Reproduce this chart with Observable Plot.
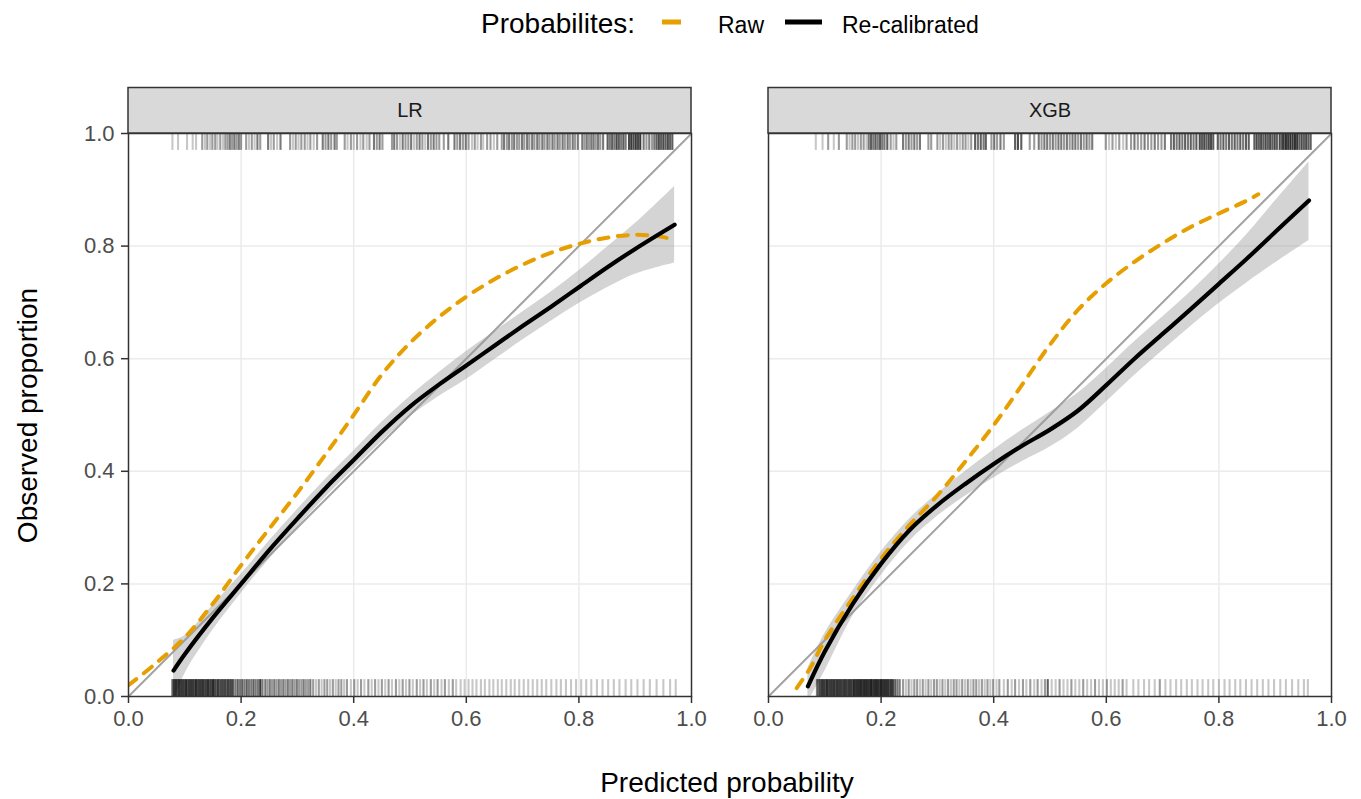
<!DOCTYPE html>
<html>
<head>
<meta charset="utf-8">
<script src="https://cdn.jsdelivr.net/npm/d3@7"></script>
<script src="https://cdn.jsdelivr.net/npm/@observablehq/plot@0.6"></script>
<style>
  html, body { margin: 0; padding: 0; background: white; }
  #wrap { position: relative; width: 1361px; height: 799px; font-family: "Liberation Sans", Arial, sans-serif; }
  #wrap svg.plot-panel { position: absolute; top: 0; overflow: visible; }
  #overlay { position: absolute; left: 0; top: 0; z-index: 10; pointer-events: none; }
</style>
</head>
<body>
<div id="wrap"></div>
<script>
// ---------- data ----------
const panels = ["LR", "XGB"];
const legendTitle = "Probabilites:";
const seriesNames = ["Raw", "Re-calibrated"];
const axisTicks = [0, 0.2, 0.4, 0.6, 0.8, 1];
const gridTicks = [0.2, 0.4, 0.6, 0.8];
const diag = [0, 1];

// [predicted, observed]
const lrRaw = [[0,0.02],[0.05,0.06],[0.1,0.105],[0.15,0.165],[0.2,0.233],[0.25,0.298],[0.3,0.362],[0.35,0.43],[0.4,0.5],[0.45,0.572],[0.5,0.628],[0.55,0.673],[0.6,0.71],[0.65,0.741],[0.7,0.767],[0.75,0.788],[0.8,0.804],[0.85,0.815],[0.9,0.82],[0.95,0.816],[0.97,0.81]];
const lrCal = [[0.08,0.046],[0.1,0.075],[0.15,0.14],[0.2,0.2],[0.25,0.26],[0.3,0.316],[0.35,0.37],[0.4,0.42],[0.45,0.47],[0.5,0.515],[0.55,0.553],[0.6,0.588],[0.65,0.623],[0.7,0.658],[0.75,0.692],[0.8,0.727],[0.85,0.762],[0.9,0.795],[0.97,0.838]];
// [predicted, lower, upper]
const lrBand = [[0.08,-0.01,0.10],[0.1,0.04,0.108],[0.15,0.118,0.162],[0.2,0.183,0.217],[0.25,0.244,0.276],[0.3,0.30,0.332],[0.35,0.354,0.386],[0.4,0.404,0.436],[0.45,0.453,0.487],[0.5,0.497,0.533],[0.55,0.532,0.574],[0.6,0.563,0.613],[0.65,0.598,0.648],[0.7,0.633,0.683],[0.75,0.666,0.718],[0.8,0.698,0.756],[0.85,0.726,0.798],[0.9,0.75,0.84],[0.97,0.77,0.906]];

const xgbRaw = [[0.05,0.015],[0.075,0.052],[0.1,0.1],[0.15,0.175],[0.2,0.245],[0.25,0.304],[0.3,0.357],[0.35,0.418],[0.4,0.482],[0.45,0.553],[0.5,0.625],[0.55,0.687],[0.6,0.734],[0.65,0.772],[0.7,0.805],[0.75,0.834],[0.8,0.858],[0.85,0.881],[0.87,0.892]];
const xgbCal = [[0.07,0.018],[0.1,0.08],[0.15,0.165],[0.2,0.236],[0.25,0.295],[0.3,0.34],[0.35,0.378],[0.4,0.413],[0.45,0.445],[0.5,0.474],[0.55,0.508],[0.6,0.553],[0.65,0.6],[0.7,0.644],[0.75,0.688],[0.8,0.733],[0.85,0.778],[0.9,0.825],[0.96,0.881]];
const xgbBand = [[0.07,-0.01,0.05],[0.1,0.045,0.112],[0.15,0.143,0.188],[0.2,0.215,0.257],[0.25,0.275,0.315],[0.3,0.32,0.36],[0.35,0.356,0.4],[0.4,0.388,0.438],[0.45,0.417,0.473],[0.5,0.443,0.505],[0.55,0.477,0.539],[0.6,0.523,0.583],[0.65,0.57,0.63],[0.7,0.614,0.674],[0.75,0.657,0.719],[0.8,0.698,0.768],[0.85,0.735,0.821],[0.9,0.77,0.88],[0.96,0.81,0.95]];

// rug: [predicted, number of observations at that position]
const lrRugEvents = [[0.078,1],[0.088,1],[0.104,1],[0.114,1],[0.120,1],[0.131,2],[0.136,1],[0.140,2],[0.145,1],[0.149,2],[0.154,2],[0.158,1],[0.163,2],[0.168,1],[0.172,2],[0.176,2],[0.180,3],[0.184,2],[0.188,3],[0.192,2],[0.196,3],[0.200,2],[0.209,2],[0.214,1],[0.219,2],[0.224,1],[0.229,3],[0.234,2],[0.248,3],[0.253,1],[0.258,2],[0.264,1],[0.270,3],[0.287,2],[0.292,1],[0.297,2],[0.302,1],[0.307,2],[0.313,2],[0.318,1],[0.323,2],[0.329,1],[0.335,2],[0.345,3],[0.350,2],[0.355,3],[0.360,2],[0.366,3],[0.370,2],[0.384,2],[0.389,1],[0.395,2],[0.400,1],[0.406,2],[0.412,1],[0.417,2],[0.423,1],[0.428,2],[0.436,3],[0.441,2],[0.446,3],[0.451,2],[0.468,2],[0.472,3],[0.477,2],[0.482,1],[0.487,3],[0.492,2],[0.497,2],[0.502,3],[0.507,1],[0.512,2],[0.517,3],[0.522,2],[0.527,1],[0.532,3],[0.537,2],[0.542,3],[0.547,2],[0.552,2],[0.560,2],[0.568,3],[0.579,3],[0.584,2],[0.589,3],[0.594,2],[0.599,3],[0.604,2],[0.610,1],[0.615,2],[0.620,1],[0.626,2],[0.630,1],[0.637,2],[0.643,2],[0.649,1],[0.655,2],[0.663,2],[0.667,3],[0.672,2],[0.676,3],[0.681,2],[0.685,3],[0.690,2],[0.694,2],[0.699,3],[0.703,2],[0.708,3],[0.712,2],[0.717,3],[0.721,2],[0.726,3],[0.730,2],[0.735,3],[0.739,2],[0.744,3],[0.748,2],[0.753,3],[0.757,2],[0.762,3],[0.766,2],[0.771,3],[0.775,2],[0.780,3],[0.784,2],[0.789,3],[0.793,2],[0.798,3],[0.806,3],[0.810,2],[0.814,3],[0.818,2],[0.822,3],[0.826,3],[0.830,2],[0.834,3],[0.838,2],[0.843,3],[0.851,4],[0.855,3],[0.859,4],[0.863,3],[0.867,5],[0.871,4],[0.875,3],[0.879,4],[0.883,3],[0.889,5],[0.893,6],[0.897,5],[0.901,6],[0.905,5],[0.909,6],[0.915,3],[0.920,2],[0.925,3],[0.930,2],[0.934,3],[0.938,4],[0.942,5],[0.946,4],[0.950,5],[0.954,4],[0.958,5],[0.962,4],[0.966,4]];
const lrRugNonEvents = [[0.078,4],[0.081,5],[0.084,6],[0.087,5],[0.090,6],[0.093,5],[0.096,6],[0.099,5],[0.102,6],[0.105,5],[0.108,6],[0.111,5],[0.114,6],[0.117,5],[0.120,6],[0.123,5],[0.126,6],[0.129,5],[0.132,6],[0.135,5],[0.138,5],[0.141,6],[0.144,5],[0.147,5],[0.150,6],[0.153,5],[0.156,4],[0.159,5],[0.162,4],[0.165,5],[0.168,4],[0.171,5],[0.174,4],[0.177,5],[0.180,4],[0.183,5],[0.186,4],[0.190,3],[0.194,4],[0.198,3],[0.202,4],[0.206,3],[0.210,4],[0.214,3],[0.218,3],[0.222,4],[0.226,3],[0.230,3],[0.234,6],[0.238,3],[0.243,3],[0.247,2],[0.251,3],[0.255,2],[0.259,3],[0.263,2],[0.267,3],[0.271,2],[0.275,3],[0.279,2],[0.283,3],[0.287,2],[0.291,3],[0.295,2],[0.299,3],[0.303,2],[0.307,2],[0.311,3],[0.315,2],[0.319,2],[0.323,3],[0.328,2],[0.333,1],[0.338,2],[0.343,1],[0.348,2],[0.353,2],[0.358,1],[0.363,2],[0.368,1],[0.373,2],[0.378,2],[0.383,1],[0.388,2],[0.395,1],[0.401,2],[0.407,1],[0.413,2],[0.419,1],[0.426,2],[0.432,1],[0.438,2],[0.444,1],[0.450,2],[0.456,1],[0.462,2],[0.468,1],[0.475,2],[0.481,1],[0.487,2],[0.493,1],[0.499,2],[0.505,1],[0.512,2],[0.518,1],[0.524,2],[0.530,1],[0.537,2],[0.543,1],[0.549,2],[0.556,1],[0.562,2],[0.569,1],[0.576,2],[0.582,1],[0.590,1],[0.597,1],[0.604,1],[0.611,1],[0.618,1],[0.626,1],[0.633,1],[0.641,1],[0.648,1],[0.656,1],[0.663,1],[0.671,1],[0.679,1],[0.686,1],[0.694,1],[0.702,1],[0.710,1],[0.718,1],[0.726,1],[0.734,1],[0.742,1],[0.751,1],[0.760,1],[0.768,1],[0.777,1],[0.786,1],[0.795,1],[0.804,1],[0.813,1],[0.822,1],[0.832,1],[0.842,1],[0.852,1],[0.862,1],[0.872,1],[0.883,1],[0.893,1],[0.904,1],[0.915,1],[0.926,1],[0.938,1],[0.950,1],[0.962,1],[0.972,1]];
const xgbRugEvents = [[0.084,1],[0.096,1],[0.106,2],[0.116,1],[0.125,2],[0.139,2],[0.144,1],[0.149,2],[0.154,2],[0.159,1],[0.164,2],[0.169,2],[0.174,1],[0.178,3],[0.182,4],[0.186,3],[0.190,4],[0.194,3],[0.198,4],[0.202,3],[0.206,3],[0.211,4],[0.217,2],[0.222,1],[0.227,2],[0.239,3],[0.244,2],[0.249,3],[0.254,2],[0.259,3],[0.264,2],[0.269,3],[0.284,2],[0.289,2],[0.300,2],[0.305,1],[0.310,2],[0.315,1],[0.320,2],[0.325,2],[0.330,1],[0.335,2],[0.340,1],[0.345,2],[0.350,2],[0.355,1],[0.360,2],[0.367,4],[0.372,3],[0.377,4],[0.382,3],[0.386,4],[0.396,2],[0.401,3],[0.406,2],[0.412,3],[0.418,2],[0.438,4],[0.443,5],[0.449,4],[0.464,2],[0.472,2],[0.480,3],[0.485,2],[0.490,3],[0.495,3],[0.500,2],[0.505,3],[0.510,2],[0.515,3],[0.520,3],[0.525,2],[0.530,3],[0.535,2],[0.540,3],[0.545,3],[0.550,2],[0.555,3],[0.560,2],[0.565,3],[0.570,2],[0.575,3],[0.599,2],[0.605,1],[0.611,2],[0.617,1],[0.623,2],[0.630,1],[0.636,2],[0.644,2],[0.650,3],[0.656,2],[0.662,2],[0.668,3],[0.674,2],[0.680,2],[0.686,3],[0.692,2],[0.698,2],[0.704,3],[0.715,3],[0.720,4],[0.725,3],[0.730,4],[0.735,3],[0.740,4],[0.745,3],[0.750,4],[0.755,3],[0.760,4],[0.766,5],[0.770,4],[0.774,5],[0.778,4],[0.782,5],[0.786,5],[0.790,4],[0.798,4],[0.803,3],[0.808,4],[0.813,3],[0.818,4],[0.823,3],[0.828,4],[0.833,3],[0.838,4],[0.843,3],[0.848,4],[0.853,4],[0.863,4],[0.867,5],[0.871,4],[0.875,5],[0.879,4],[0.883,5],[0.887,4],[0.891,5],[0.895,4],[0.899,5],[0.903,4],[0.908,5],[0.912,4],[0.915,6],[0.919,7],[0.923,6],[0.927,7],[0.931,6],[0.935,7],[0.939,6],[0.943,4],[0.947,5],[0.951,4],[0.955,5],[0.959,4],[0.963,4]];
const xgbRugNonEvents = [[0.086,3],[0.089,4],[0.092,5],[0.095,5],[0.098,6],[0.101,5],[0.104,6],[0.107,5],[0.110,6],[0.113,5],[0.116,6],[0.119,5],[0.122,6],[0.125,5],[0.128,6],[0.131,5],[0.134,5],[0.137,6],[0.140,5],[0.143,5],[0.146,6],[0.149,5],[0.152,6],[0.155,6],[0.158,7],[0.161,6],[0.164,7],[0.167,6],[0.170,7],[0.173,6],[0.176,7],[0.179,6],[0.182,7],[0.185,6],[0.188,7],[0.191,6],[0.194,7],[0.197,6],[0.200,7],[0.203,6],[0.206,7],[0.209,6],[0.212,6],[0.215,5],[0.218,6],[0.221,5],[0.225,4],[0.229,3],[0.233,3],[0.239,2],[0.244,1],[0.249,2],[0.254,1],[0.259,2],[0.264,2],[0.269,1],[0.274,2],[0.279,1],[0.284,2],[0.289,1],[0.294,2],[0.299,2],[0.304,1],[0.309,2],[0.314,1],[0.319,2],[0.324,1],[0.329,2],[0.334,2],[0.339,1],[0.344,2],[0.349,1],[0.354,2],[0.359,1],[0.364,2],[0.369,2],[0.374,1],[0.379,2],[0.384,1],[0.389,2],[0.394,1],[0.399,2],[0.405,1],[0.410,2],[0.418,1],[0.425,2],[0.432,1],[0.438,2],[0.445,1],[0.452,2],[0.458,1],[0.465,2],[0.472,1],[0.478,2],[0.485,1],[0.491,2],[0.496,4],[0.503,1],[0.510,1],[0.517,2],[0.524,1],[0.531,1],[0.538,2],[0.545,1],[0.552,1],[0.559,2],[0.566,1],[0.573,1],[0.580,2],[0.587,1],[0.594,1],[0.601,2],[0.608,1],[0.615,1],[0.622,1],[0.629,2],[0.636,1],[0.648,1],[0.657,1],[0.667,1],[0.676,1],[0.686,1],[0.695,2],[0.705,1],[0.714,1],[0.724,1],[0.733,1],[0.743,1],[0.752,1],[0.762,1],[0.771,1],[0.781,1],[0.790,1],[0.800,1],[0.810,1],[0.819,1],[0.829,1],[0.838,1],[0.848,1],[0.858,1],[0.868,1],[0.878,1],[0.888,1],[0.898,1],[0.909,1],[0.919,1],[0.930,1],[0.941,1],[0.951,1],[0.958,1]];

// ---------- drawing ----------
const ORANGE = "#E69F00";
const FONT = "Liberation Sans, Arial, sans-serif";
const fmt = d3.format(".1f");
const STRIP_TOP = 1.0808;
const rugOpacity = d => 1 - Math.pow(0.78, d[1]);

function panel(name, raw, cal, band, rugEv, rugNon, showY, width, ml, mr) {
  const marks = [
    Plot.gridX(gridTicks, {stroke: "#ebebeb", strokeOpacity: 1, strokeWidth: 1.5}),
    Plot.gridY(gridTicks, {stroke: "#ebebeb", strokeOpacity: 1, strokeWidth: 1.5}),
    Plot.line(diag, {x: d => d, y: d => d, stroke: "#a3a3a3", strokeWidth: 2, clip: true}),
    Plot.areaY(band, {x: d => d[0], y1: d => d[1], y2: d => d[2], fill: "#999999", fillOpacity: 0.42, curve: "catmull-rom", clip: true}),
    Plot.ruleX(rugEv, {x: d => d[0], y1: 0.97, y2: 1, stroke: "black", strokeOpacity: rugOpacity, strokeWidth: 2.1}),
    Plot.ruleX(rugNon, {x: d => d[0], y1: 0, y2: 0.03, stroke: "black", strokeOpacity: rugOpacity, strokeWidth: 2.1}),
    Plot.line(raw, {x: d => d[0], y: d => d[1], stroke: ORANGE, strokeWidth: 4, strokeDasharray: "10,9.5", curve: "catmull-rom", clip: true}),
    Plot.line(cal, {x: d => d[0], y: d => d[1], stroke: "black", strokeWidth: 4.2, curve: "catmull-rom", clip: true}),
    Plot.frame({stroke: "#333333", strokeWidth: 1.5}),
    Plot.rect([name], {x1: 0, x2: 1, y1: 1, y2: STRIP_TOP, fill: "#d9d9d9", stroke: "#333333", strokeWidth: 1.5}),
    Plot.text([name], {x: 0.5, y: (1 + STRIP_TOP) / 2, text: d => d, fontSize: 20, fill: "#1a1a1a", fontFamily: FONT}),
    Plot.axisX(axisTicks, {tickFormat: fmt, fontSize: 22, tickSize: 7, tickPadding: 7, stroke: "#333333", fill: "#4d4d4d", strokeWidth: 1.5, label: null})
  ];
  if (showY) {
    marks.push(Plot.axisY(axisTicks, {tickFormat: fmt, fontSize: 22, tickSize: 7, tickPadding: 7, stroke: "#333333", fill: "#4d4d4d", strokeWidth: 1.5, label: null, anchor: "left"}));
  }
  const svg = Plot.plot({
    width, height: 745,
    marginLeft: ml, marginRight: mr, marginTop: 133, marginBottom: 49,
    x: {domain: [0, 1], label: null},
    y: {domain: [0, 1], label: null, axis: showY ? undefined : null},
    opacity: {type: "identity"},
    style: {fontFamily: FONT, background: "transparent", overflow: "visible"},
    marks
  });
  svg.classList.add("plot-panel");
  return svg;
}

const wrap = document.getElementById("wrap");
const left = panel(panels[0], lrRaw, lrCal, lrBand, lrRugEvents, lrRugNonEvents, true, 700, 128, 9);
left.style.left = "0px";
const right = panel(panels[1], xgbRaw, xgbCal, xgbBand, xgbRugEvents, xgbRugNonEvents, false, 601, 8, 30);
right.style.left = "760px";
wrap.appendChild(left);
wrap.appendChild(right);

// overlay: legend + axis titles (real text)
const ns = "http://www.w3.org/2000/svg";
const ov = document.createElementNS(ns, "svg");
ov.setAttribute("id", "overlay");
ov.setAttribute("width", 1361);
ov.setAttribute("height", 799);
function txt(s, x, y, size, anchor, rot) {
  const t = document.createElementNS(ns, "text");
  t.textContent = s;
  t.setAttribute("x", x); t.setAttribute("y", y);
  t.setAttribute("font-size", size);
  t.setAttribute("font-family", FONT);
  t.setAttribute("fill", "black");
  t.setAttribute("text-anchor", anchor || "start");
  if (rot) t.setAttribute("transform", `rotate(${rot},${x},${y})`);
  ov.appendChild(t);
}
function seg(x1, x2, y, color) {
  const l = document.createElementNS(ns, "line");
  l.setAttribute("x1", x1); l.setAttribute("x2", x2);
  l.setAttribute("y1", y); l.setAttribute("y2", y);
  l.setAttribute("stroke", color); l.setAttribute("stroke-width", 5);
  ov.appendChild(l);
}
txt(legendTitle, 481, 32.5, 28);
seg(662, 681, 22, ORANGE);
txt(seriesNames[0], 718, 32.5, 23);
seg(785, 822, 22, "black");
txt(seriesNames[1], 842, 32.5, 23);
txt("Predicted probability", 727, 792, 28, "middle");
txt("Observed proportion", 37, 415.5, 28, "middle", -90);
wrap.appendChild(ov);
</script>
</body>
</html>
